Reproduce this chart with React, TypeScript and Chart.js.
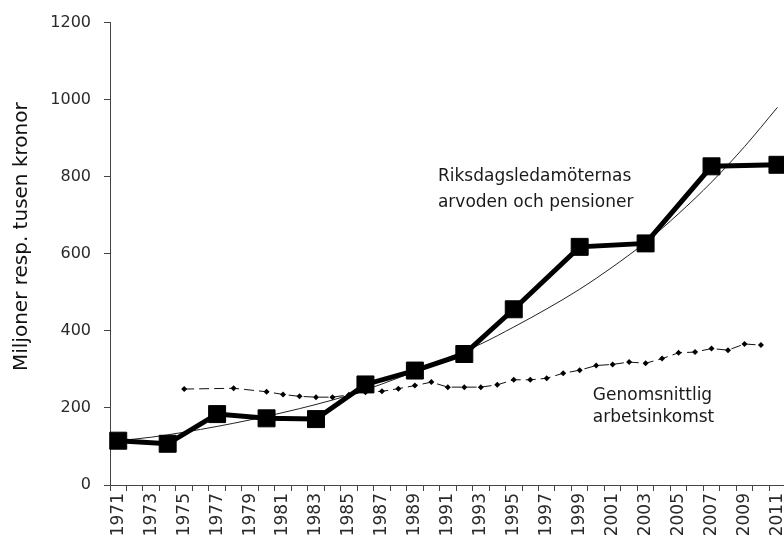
import React, { useEffect, useRef } from "react";
import { Chart, registerables } from "chart.js";

Chart.register(...registerables);

// Category axis: every year 1971–2011
const yearLabels = [
  "1971", "1972", "1973", "1974", "1975", "1976", "1977", "1978", "1979", "1980",
  "1981", "1982", "1983", "1984", "1985", "1986", "1987", "1988", "1989", "1990",
  "1991", "1992", "1993", "1994", "1995", "1996", "1997", "1998", "1999", "2000",
  "2001", "2002", "2003", "2004", "2005", "2006", "2007", "2008", "2009", "2010",
  "2011",
];

// Riksdagsledamöternas arvoden och pensioner (miljoner kronor)
const memberYears = [1971, 1974, 1977, 1980, 1983, 1986, 1989, 1992, 1995, 1999, 2003, 2007, 2011];
const memberValues = [115, 107, 184, 173, 171, 261, 297, 340, 456, 618, 627, 827, 831];

// Genomsnittlig arbetsinkomst (tusen kronor)
const incomeYears = [
  1975, 1978, 1980, 1981, 1982, 1983, 1984, 1985, 1986, 1987, 1988, 1989, 1990,
  1991, 1992, 1993, 1994, 1995, 1996, 1997, 1998, 1999, 2000, 2001, 2002, 2003,
  2004, 2005, 2006, 2007, 2008, 2009, 2010,
];
const incomeValues = [
  249, 251, 242, 235, 230, 228, 228, 234, 241, 243, 250, 258, 267,
  254, 254, 254, 260, 273, 273, 277, 290, 298, 310, 313, 319, 316,
  328, 343, 345, 354, 350, 366, 363,
];

// Trend curve of the members' series
const trendYears = [1971, 1973, 1975, 1977, 1979, 1981, 1983, 1985, 1987, 1989, 1991, 1993, 1995, 1997, 1999, 2001, 2003, 2005, 2007, 2009, 2011];
const trendValues = [115, 124, 137, 152, 169, 188, 209, 233, 262, 295, 330, 366, 410, 457, 508, 566, 630, 704, 786, 878, 980];

const yTicks = [0, 200, 400, 600, 800, 1000, 1200];

const yTitle = "Miljoner resp. tusen kronor";
const memberLabel = ["Riksdagsledamöternas", "arvoden och pensioner"];
const incomeLabel = ["Genomsnittlig", "arbetsinkomst"];

const toSeries = (ys: number[], vs: number[]) =>
  yearLabels.map((lab) => {
    const i = ys.indexOf(Number(lab));
    return i >= 0 ? vs[i] : null;
  });

const FONT = '"DejaVu Sans", sans-serif';

export default function App() {
  const ref = useRef<HTMLCanvasElement | null>(null);

  useEffect(() => {
    if (!ref.current) return;

    const textPlugin = {
      id: "texts",
      afterDatasetsDraw(chart: any) {
        const { ctx, chartArea, scales } = chart;
        const x = scales.x;
        const y = scales.y;
        ctx.save();
        ctx.fillStyle = "#1a1a1a";
        ctx.textAlign = "left";
        ctx.textBaseline = "middle";
        ctx.font = `17px ${FONT}`;
        ctx.fillText(memberLabel[0], x.getPixelForValue(19.4), y.getPixelForValue(801));
        ctx.fillText(memberLabel[1], x.getPixelForValue(19.4), y.getPixelForValue(734));
        ctx.fillText(incomeLabel[0], x.getPixelForValue(28.8), y.getPixelForValue(233));
        ctx.fillText(incomeLabel[1], x.getPixelForValue(28.8), y.getPixelForValue(175));
        // y-axis title
        ctx.translate(22, chartArea.top + (chartArea.bottom - chartArea.top) * 0.463);
        ctx.rotate(-Math.PI / 2);
        ctx.textAlign = "center";
        ctx.font = `20px ${FONT}`;
        ctx.fillStyle = "#111";
        ctx.fillText(yTitle, 0, 0);
        ctx.restore();
      },
    };

    const chart = new Chart(ref.current, {
      type: "line",
      data: {
        labels: yearLabels,
        datasets: [
          {
            label: "Trend",
            data: toSeries(trendYears, trendValues),
            borderColor: "#222",
            borderWidth: 1,
            pointRadius: 0,
            spanGaps: true,
            cubicInterpolationMode: "monotone",
            order: 3,
          },
          {
            label: incomeLabel.join(" "),
            data: toSeries(incomeYears, incomeValues),
            borderColor: "#111",
            borderWidth: 1,
            borderDash: [10, 5],
            pointStyle: "rectRot",
            pointRadius: 3,
            pointBackgroundColor: "#000",
            pointBorderColor: "#000",
            pointBorderWidth: 0,
            spanGaps: true,
            order: 2,
          },
          {
            label: memberLabel.join(" "),
            data: toSeries(memberYears, memberValues),
            borderColor: "#000",
            borderWidth: 5,
            pointStyle: "rect",
            pointRadius: 12,
            pointBackgroundColor: "#000",
            pointBorderColor: "#000",
            pointBorderWidth: 1,
            spanGaps: true,
            order: 1,
          },
        ],
      },
      options: {
        responsive: false,
        animation: false,
        devicePixelRatio: 1,
        layout: { padding: { left: 0, top: 16, right: 12, bottom: 0 } },
        plugins: {
          legend: { display: false },
          tooltip: { enabled: false },
        },
        scales: {
          x: {
            type: "category",
            offset: true,
            grid: {
              offset: true,
              drawOnChartArea: false,
              drawTicks: true,
              tickLength: 6,
              color: "#444",
            },
            border: { display: true, color: "#444", width: 1 },
            ticks: {
              autoSkip: false,
              minRotation: 90,
              maxRotation: 90,
              padding: 2,
              color: "#2a2a2a",
              font: { family: FONT, size: 17 },
              callback: (_v: any, i: number) => (i % 2 === 0 ? yearLabels[i] : ""),
            },
            afterFit: (s: any) => {
              s.height = 55;
            },
          },
          y: {
            min: 0,
            max: 1200,
            afterBuildTicks: (s: any) => {
              s.ticks = yTicks.map((v) => ({ value: v }));
            },
            grid: {
              drawOnChartArea: false,
              drawTicks: true,
              tickLength: 6,
              color: "#444",
            },
            border: { display: true, color: "#444", width: 1 },
            ticks: {
              padding: 13,
              color: "#2a2a2a",
              font: { family: FONT, size: 16 },
              callback: (v: any) => String(v),
            },
            afterFit: (s: any) => {
              s.width = 110;
            },
          },
        },
      },
      plugins: [textPlugin],
    });

    return () => chart.destroy();
  }, []);

  return (
    <div
      style={{
        position: "fixed",
        left: 0,
        top: 0,
        width: 784,
        height: 540,
        overflow: "hidden",
        background: "#fff",
      }}
    >
      <canvas ref={ref} width={800} height={540} style={{ display: "block" }} />
    </div>
  );
}
